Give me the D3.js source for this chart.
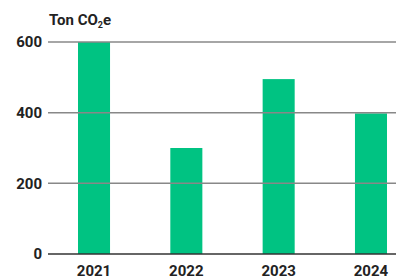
<!DOCTYPE html>
<html><head><meta charset="utf-8">
<script src="https://cdn.jsdelivr.net/npm/d3@7"></script>
<style>
html,body{margin:0;padding:0;background:#fff;}
svg{display:block;font-family:Roboto,"Noto Sans",sans-serif;}
</style></head>
<body><svg id="c" width="396" height="278"></svg>
<script>
const years = ["2021","2022","2023","2024"];
const emissions = [600, 300, 495, 398];
const yTicks = [0, 200, 400, 600];

const svg = d3.select("#c");
const y = d3.scaleLinear().domain([0, 600]).range([254, 42]);
const x = d3.scaleBand().domain(years).range([78, 387]).paddingInner(0.653).paddingOuter(0);

// bars
svg.append("g").selectAll("rect").data(years).join("rect")
  .attr("x", d => x(d))
  .attr("width", x.bandwidth())
  .attr("y", (d,i) => y(emissions[i]))
  .attr("height", (d,i) => y(0) - y(emissions[i]))
  .attr("fill", "#00c382");

// gridlines
const yAxis = d3.axisLeft(y).tickValues(yTicks).tickSize(0).tickPadding(0);
const gy = svg.append("g").attr("transform", "translate(48,0)");
gy.selectAll("line.grid").data(yTicks).join("line")
  .attr("class","grid")
  .attr("x1", 0).attr("x2", 348)
  .attr("y1", d => y(d)).attr("y2", d => y(d))
  .attr("stroke", d => d === 0 ? "#333" : "#888")
  .attr("stroke-width", 1.5);
const ya = gy.append("g").call(yAxis);
ya.select(".domain").remove();
ya.selectAll("text")
  .attr("x", -6)
  .attr("font-family", "Roboto")
  .attr("font-weight", 700)
  .attr("font-size", 15)
  .attr("fill", "#222");

// x axis labels
const xa = svg.append("g").attr("transform", "translate(0,254)")
  .call(d3.axisBottom(x).tickSize(0).tickPadding(0));
xa.select(".domain").remove();
xa.selectAll("text")
  .attr("dy", null)
  .attr("y", 21.5)
  .attr("font-family", "Roboto")
  .attr("font-weight", 700)
  .attr("font-size", 15)
  .attr("fill", "#222");

// title
const t = svg.append("text").attr("x", 49).attr("y", 25)
  .attr("font-family","Roboto").attr("font-weight",700).attr("font-size",15).attr("fill","#222");
t.append("tspan").text("Ton CO");
t.append("tspan").text("2").attr("font-size", 9).attr("dy", 3);
t.append("tspan").text("e").attr("dy", -3);
</script></body></html>
